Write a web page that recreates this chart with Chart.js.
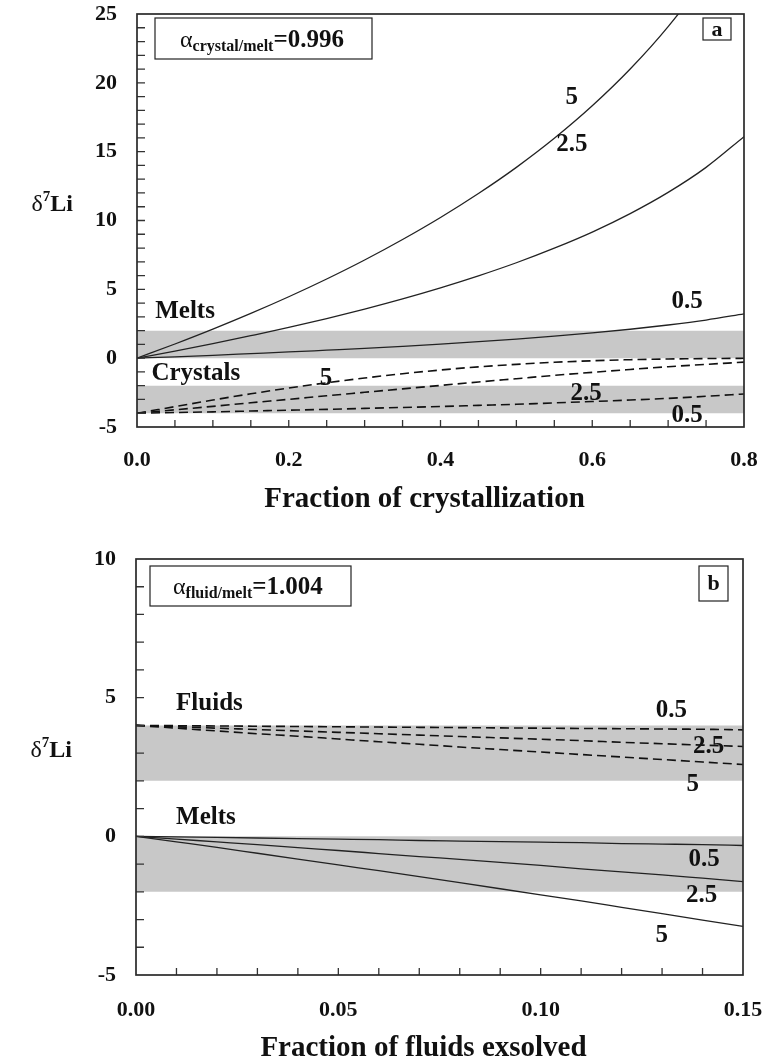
<!DOCTYPE html>
<html>
<head>
<meta charset="utf-8">
<script src="https://cdn.jsdelivr.net/npm/chart.js@4.4.1/dist/chart.umd.min.js"></script>
<style>
  body { margin: 0; background: #fff; }
  canvas { position: absolute; left: 0; }
</style>
</head>
<body>
<canvas id="chartA" width="766" height="531" style="top:0px"></canvas>
<canvas id="chartB" width="766" height="532" style="top:531px"></canvas>
<script>
// (a) fractional crystallization, alpha crystal/melt = 0.996
var fracA = [0, 0.05, 0.1, 0.15, 0.2, 0.25, 0.3, 0.35, 0.4, 0.45, 0.5, 0.55, 0.6, 0.65, 0.7, 0.75, 0.8]
var meltA5 = [0, 1.03, 2.11, 3.25, 4.46, 5.75, 7.13, 8.62, 10.22, 11.96, 13.86, 15.97, 18.33, 21.0, 24.08, 27.73, 32.19]
var meltA25 = [0, 0.51, 1.05, 1.63, 2.23, 2.88, 3.57, 4.31, 5.11, 5.98, 6.93, 7.99, 9.16, 10.5, 12.04, 13.86, 16.09]
var meltA05 = [0, 0.10, 0.21, 0.33, 0.45, 0.58, 0.71, 0.86, 1.02, 1.20, 1.39, 1.60, 1.83, 2.10, 2.41, 2.77, 3.22]
var crystA5 = [-4, -3.52, -3.04, -2.59, -2.17, -1.79, -1.44, -1.13, -0.86, -0.63, -0.45, -0.30, -0.19, -0.11, -0.06, -0.03, -0.01]
var crystA25 = [-4, -3.75, -3.50, -3.24, -2.99, -2.73, -2.48, -2.23, -1.98, -1.73, -1.49, -1.25, -1.03, -0.82, -0.62, -0.45, -0.29]
var crystA05 = [-4, -3.95, -3.90, -3.84, -3.78, -3.72, -3.65, -3.58, -3.51, -3.43, -3.35, -3.25, -3.15, -3.04, -2.92, -2.77, -2.60]
var bandFracA = [0, 0.8]
var meltRangeA = [0, 2]
var crystRangeA = [-4, -2]

// (b) fluid exsolution, alpha fluid/melt = 1.004
var fracB = [0, 0.01, 0.02, 0.03, 0.04, 0.05, 0.06, 0.07, 0.08, 0.09, 0.1, 0.11, 0.12, 0.13, 0.14, 0.15]
var meltB5 = [0, -0.20, -0.40, -0.61, -0.82, -1.03, -1.24, -1.45, -1.67, -1.89, -2.11, -2.33, -2.56, -2.79, -3.02, -3.25]
var meltB25 = [0, -0.10, -0.20, -0.30, -0.41, -0.51, -0.62, -0.73, -0.83, -0.94, -1.05, -1.17, -1.28, -1.39, -1.51, -1.63]
var meltB05 = [0, -0.02, -0.04, -0.06, -0.08, -0.10, -0.12, -0.15, -0.17, -0.19, -0.21, -0.23, -0.26, -0.28, -0.30, -0.33]
var fluidB5 = [4, 3.90, 3.80, 3.70, 3.61, 3.51, 3.41, 3.32, 3.22, 3.13, 3.04, 2.95, 2.86, 2.77, 2.68, 2.59]
var fluidB25 = [4, 3.95, 3.90, 3.85, 3.80, 3.75, 3.70, 3.65, 3.60, 3.55, 3.50, 3.45, 3.39, 3.34, 3.29, 3.24]
var fluidB05 = [4, 3.99, 3.98, 3.97, 3.96, 3.95, 3.94, 3.93, 3.92, 3.91, 3.90, 3.89, 3.88, 3.87, 3.86, 3.84]
var bandFracB = [0, 0.15]
var fluidRangeB = [2, 4]
var meltRangeB = [-2, 0]

var SERIF = '"Liberation Serif", "Times New Roman", serif'

function pts(xs, ys) {
      return xs.map(function (x, i) { return { x: x, y: ys[i] } })
}

function curve(xs, ys, dash) {
      return {
            data: pts(xs, ys),
            borderColor: dash ? '#111' : '#222',
            borderWidth: dash ? 1.6 : 1.3,
            borderDash: dash ? [9, 5] : [],
            pointRadius: 0,
            fill: false,
            cubicInterpolationMode: 'monotone',
            order: 1
      }
}

// grey range = upper edge filled down to the dataset right after it
function band(xs, range) {
      return [{
            data: pts(xs, [range[1], range[1]]),
            borderWidth: 0,
            pointRadius: 0,
            backgroundColor: '#c8c8c8',
            fill: '+1',
            order: 5
      }, {
            data: pts(xs, [range[0], range[0]]),
            borderWidth: 0,
            pointRadius: 0,
            fill: false,
            order: 5
      }]
}

function drawDelta(ctx, right, midY) {
      // "δ7Li" with superscript 7
      ctx.textBaseline = 'alphabetic'
      ctx.textAlign = 'left'
      ctx.font = 'bold 24px ' + SERIF
      var wLi = ctx.measureText('Li').width
      ctx.font = '24px ' + SERIF
      var wD = ctx.measureText('δ').width
      ctx.font = 'bold 15px ' + SERIF
      var w7 = ctx.measureText('7').width
      var x0 = right - wLi - w7 - wD
      var base = midY + 8
      ctx.font = '24px ' + SERIF
      ctx.fillText('δ', x0, base)
      ctx.font = 'bold 15px ' + SERIF
      ctx.fillText('7', x0 + wD, base - 10)
      ctx.font = 'bold 24px ' + SERIF
      ctx.fillText('Li', x0 + wD + w7, base)
}

var decor = {
      id: 'decor',
      afterDatasetsDraw: function (chart, args, opts) {
            var ctx = chart.ctx
            var area = chart.chartArea
            var xs = chart.scales.x
            var ys = chart.scales.y
            ctx.save()

            // inward ticks on left and bottom
            ctx.strokeStyle = '#333'
            ctx.lineWidth = 1.3
            ctx.beginPath()
            ys.ticks.forEach(function (t) {
                  if (t.value <= ys.min || t.value >= ys.max) return
                  var py = ys.getPixelForValue(t.value)
                  ctx.moveTo(area.left, py)
                  ctx.lineTo(area.left + 8, py)
            })
            xs.ticks.forEach(function (t) {
                  if (t.value <= xs.min || t.value >= xs.max) return
                  var px = xs.getPixelForValue(t.value)
                  ctx.moveTo(px, area.bottom)
                  ctx.lineTo(px, area.bottom - 7)
            })
            ctx.stroke()

            ctx.lineWidth = 1.7
            ctx.strokeStyle = '#2a2a2a'
            ctx.strokeRect(area.left, area.top, area.right - area.left, area.bottom - area.top)

            // curve and range labels
            ctx.fillStyle = '#111'
            opts.labels.forEach(function (l) {
                  ctx.font = 'bold ' + (l.size || 25) + 'px ' + SERIF
                  ctx.textAlign = l.align || 'center'
                  ctx.textBaseline = 'middle'
                  ctx.fillText(l.text, xs.getPixelForValue(l.x), ys.getPixelForValue(l.y))
            })

            // alpha box
            var b = opts.alphaBox
            ctx.lineWidth = 1.2
            ctx.strokeStyle = '#222'
            ctx.strokeRect(area.left + b.dx, area.top + b.dy, b.w, b.h)
            var tx = area.left + b.dx + b.pad
            var base = area.top + b.dy + b.h / 2 + 8
            ctx.textAlign = 'left'
            ctx.textBaseline = 'alphabetic'
            ctx.font = '24px ' + SERIF
            ctx.fillText('α', tx, base)
            tx += ctx.measureText('α').width
            ctx.font = 'bold 16px ' + SERIF
            ctx.fillText(b.sub, tx, base + 4)
            tx += ctx.measureText(b.sub).width
            ctx.font = 'bold 25px ' + SERIF
            ctx.fillText('=' + b.value, tx, base)

            // panel letter
            var p = opts.letterBox
            var lx = area.right - p.dx - p.w
            var ly = area.top + p.dy
            ctx.strokeRect(lx, ly, p.w, p.h)
            ctx.font = 'bold 22px ' + SERIF
            ctx.textAlign = 'center'
            ctx.textBaseline = 'middle'
            ctx.fillText(p.text, lx + p.w / 2, ly + p.h / 2 + 1)

            // axis titles
            drawDelta(ctx, area.left - 64, (area.top + area.bottom) / 2 - 18)
            ctx.font = 'bold 29px ' + SERIF
            ctx.textAlign = 'center'
            ctx.textBaseline = 'alphabetic'
            ctx.fillText(opts.xTitle, (area.left + area.right) / 2 - 16, area.bottom + opts.titleGap)

            ctx.restore()
      }
}

// keep the plot box fixed: no extra room for overhanging tick labels
function noPad(s) {
      s.paddingTop = 0
      s.paddingBottom = 0
      s.paddingLeft = 0
      s.paddingRight = 0
}

function makeChart(id, cfg) {
      var tickFont = { family: SERIF, size: 22, weight: 'bold' }
      return new Chart(document.getElementById(id), {
            type: 'line',
            data: { datasets: cfg.datasets },
            plugins: [decor],
            options: {
                  animation: false,
                  responsive: false,
                  events: [],
                  layout: { padding: cfg.padding },
                  plugins: {
                        legend: { display: false },
                        tooltip: { enabled: false },
                        decor: cfg.decor
                  },
                  scales: {
                        x: {
                              type: 'linear',
                              min: cfg.x.min,
                              max: cfg.x.max,
                              grid: { display: false, drawTicks: false },
                              border: { display: false },
                              ticks: {
                                    stepSize: cfg.x.step,
                                    autoSkip: false,
                                    maxRotation: 0,
                                    padding: cfg.x.pad,
                                    color: '#111',
                                    font: tickFont,
                                    callback: cfg.x.label
                              },
                              afterFit: function (s) { s.height = cfg.x.height; noPad(s) }
                        },
                        y: {
                              min: cfg.y.min,
                              max: cfg.y.max,
                              grid: { display: false, drawTicks: false },
                              border: { display: false },
                              ticks: {
                                    stepSize: 1,
                                    autoSkip: false,
                                    padding: 20,
                                    color: '#111',
                                    font: tickFont,
                                    callback: function (v) { return v % 5 === 0 ? String(v) : '' }
                              },
                              afterFit: function (s) { s.width = cfg.y.width; noPad(s) }
                        }
                  }
            }
      })
}

makeChart('chartA', {
      datasets: [
            curve(fracA, meltA5), curve(fracA, meltA25), curve(fracA, meltA05),
            curve(fracA, crystA5, true), curve(fracA, crystA25, true), curve(fracA, crystA05, true)
      ].concat(band(bandFracA, meltRangeA), band(bandFracA, crystRangeA)),
      padding: { top: 14, right: 22, left: 0, bottom: 0 },
      x: {
            min: 0, max: 0.8, step: 0.05, height: 104, pad: 20,
            label: function (v) { return Math.abs(v * 5 - Math.round(v * 5)) < 1e-6 ? v.toFixed(1) : '' }
      },
      y: { min: -5, max: 25, width: 137 },
      decor: {
            xTitle: 'Fraction of crystallization',
            titleGap: 80,
            alphaBox: { dx: 18, dy: 4, w: 217, h: 41, pad: 25, sub: 'crystal/melt', value: '0.996' },
            letterBox: { dx: 13, dy: 4, w: 28, h: 22, text: 'a' },
            labels: [
                  { text: 'Melts', x: 0.024, y: 3.4, align: 'left' },
                  { text: 'Crystals', x: 0.019, y: -1.1, align: 'left' },
                  { text: '5', x: 0.573, y: 18.9 },
                  { text: '2.5', x: 0.573, y: 15.5 },
                  { text: '0.5', x: 0.725, y: 4.1 },
                  { text: '5', x: 0.249, y: -1.46 },
                  { text: '2.5', x: 0.592, y: -2.55 },
                  { text: '0.5', x: 0.725, y: -4.18 }
            ]
      }
})

makeChart('chartB', {
      datasets: [
            curve(fracB, meltB5), curve(fracB, meltB25), curve(fracB, meltB05),
            curve(fracB, fluidB5, true), curve(fracB, fluidB25, true), curve(fracB, fluidB05, true)
      ].concat(band(bandFracB, fluidRangeB), band(bandFracB, meltRangeB)),
      padding: { top: 28, right: 23, left: 0, bottom: 0 },
      x: {
            min: 0, max: 0.15, step: 0.01, height: 88, pad: 22,
            label: function (v) { return Math.abs(v * 20 - Math.round(v * 20)) < 1e-6 ? v.toFixed(2) : '' }
      },
      y: { min: -5, max: 10, width: 136 },
      decor: {
            xTitle: 'Fraction of fluids exsolved',
            titleGap: 81,
            alphaBox: { dx: 14, dy: 7, w: 201, h: 40, pad: 23, sub: 'fluid/melt', value: '1.004' },
            letterBox: { dx: 15, dy: 7, w: 29, h: 35, text: 'b' },
            labels: [
                  { text: 'Fluids', x: 0.0099, y: 4.8, align: 'left' },
                  { text: 'Melts', x: 0.0099, y: 0.67, align: 'left' },
                  { text: '0.5', x: 0.1323, y: 4.55 },
                  { text: '2.5', x: 0.1415, y: 3.23 },
                  { text: '5', x: 0.1376, y: 1.86 },
                  { text: '0.5', x: 0.1404, y: -0.85 },
                  { text: '2.5', x: 0.1398, y: -2.14 },
                  { text: '5', x: 0.1299, y: -3.57 }
            ]
      }
})
</script>
</body>
</html>
